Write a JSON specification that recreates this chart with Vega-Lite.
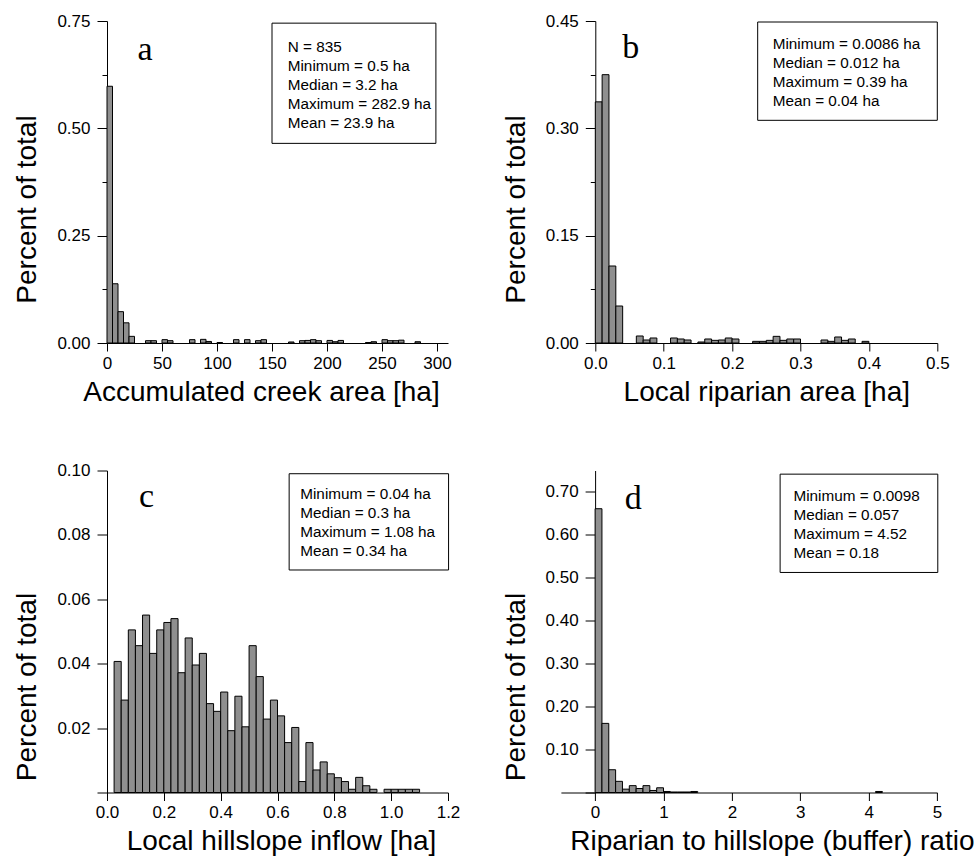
{
  "$schema": "https://vega.github.io/schema/vega-lite/v6.json",
  "background": "white",
  "padding": {"left": 13, "top": 12, "right": 0, "bottom": 0},
  "config": {
    "view": {"stroke": null},
    "font": "Liberation Sans",
    "axis": {"grid": false, "domainColor": "#000", "tickColor": "#000", "labelColor": "#000", "titleColor": "#000", "labelFont": "Liberation Sans", "titleFont": "Liberation Sans", "labelFontSize": 17, "titleFontSize": 28, "titleFontWeight": "normal", "labelOverlap": false, "labelFlush": false, "labelBound": false, "domainWidth": 1, "tickWidth": 1},
    "axisX": {"labelPadding": 4, "titlePadding": 7},
    "axisY": {"labelPadding": 7, "titlePadding": 15}
  },
  "datasets": {
    "histA": [
      {"bin_start": 0, "bin_end": 5, "share": 0.598},
      {"bin_start": 5, "bin_end": 10, "share": 0.138},
      {"bin_start": 10, "bin_end": 15, "share": 0.073},
      {"bin_start": 15, "bin_end": 20, "share": 0.047},
      {"bin_start": 20, "bin_end": 25, "share": 0.0155},
      {"bin_start": 35, "bin_end": 40, "share": 0.0054},
      {"bin_start": 40, "bin_end": 45, "share": 0.0054},
      {"bin_start": 50, "bin_end": 55, "share": 0.0078},
      {"bin_start": 55, "bin_end": 60, "share": 0.0054},
      {"bin_start": 75, "bin_end": 80, "share": 0.0078},
      {"bin_start": 85, "bin_end": 90, "share": 0.0085},
      {"bin_start": 90, "bin_end": 95, "share": 0.0036},
      {"bin_start": 100, "bin_end": 105, "share": 0.0012},
      {"bin_start": 115, "bin_end": 120, "share": 0.0078},
      {"bin_start": 125, "bin_end": 130, "share": 0.0078},
      {"bin_start": 135, "bin_end": 140, "share": 0.0054},
      {"bin_start": 140, "bin_end": 145, "share": 0.0078},
      {"bin_start": 165, "bin_end": 170, "share": 0.0024},
      {"bin_start": 175, "bin_end": 180, "share": 0.0054},
      {"bin_start": 180, "bin_end": 185, "share": 0.006},
      {"bin_start": 185, "bin_end": 190, "share": 0.0078},
      {"bin_start": 190, "bin_end": 195, "share": 0.0054},
      {"bin_start": 200, "bin_end": 205, "share": 0.006},
      {"bin_start": 205, "bin_end": 210, "share": 0.003},
      {"bin_start": 210, "bin_end": 215, "share": 0.006},
      {"bin_start": 235, "bin_end": 240, "share": 0.0012},
      {"bin_start": 240, "bin_end": 245, "share": 0.003},
      {"bin_start": 250, "bin_end": 255, "share": 0.0078},
      {"bin_start": 255, "bin_end": 260, "share": 0.0054},
      {"bin_start": 260, "bin_end": 265, "share": 0.0054},
      {"bin_start": 265, "bin_end": 270, "share": 0.0066},
      {"bin_start": 280, "bin_end": 285, "share": 0.003}
    ],
    "histB": [
      {"bin_start": 0, "bin_end": 0.01, "share": 0.337},
      {"bin_start": 0.01, "bin_end": 0.02, "share": 0.375},
      {"bin_start": 0.02, "bin_end": 0.03, "share": 0.1076},
      {"bin_start": 0.03, "bin_end": 0.04, "share": 0.0517},
      {"bin_start": 0.06, "bin_end": 0.07, "share": 0.0098},
      {"bin_start": 0.07, "bin_end": 0.08, "share": 0.0042},
      {"bin_start": 0.08, "bin_end": 0.09, "share": 0.007},
      {"bin_start": 0.11, "bin_end": 0.12, "share": 0.007},
      {"bin_start": 0.12, "bin_end": 0.13, "share": 0.0056},
      {"bin_start": 0.13, "bin_end": 0.14, "share": 0.0042},
      {"bin_start": 0.15, "bin_end": 0.16, "share": 0.0014},
      {"bin_start": 0.16, "bin_end": 0.17, "share": 0.0056},
      {"bin_start": 0.17, "bin_end": 0.18, "share": 0.0037},
      {"bin_start": 0.18, "bin_end": 0.19, "share": 0.0042},
      {"bin_start": 0.19, "bin_end": 0.2, "share": 0.007},
      {"bin_start": 0.2, "bin_end": 0.21, "share": 0.0056},
      {"bin_start": 0.23, "bin_end": 0.24, "share": 0.0023},
      {"bin_start": 0.24, "bin_end": 0.25, "share": 0.0023},
      {"bin_start": 0.25, "bin_end": 0.26, "share": 0.0037},
      {"bin_start": 0.26, "bin_end": 0.27, "share": 0.0093},
      {"bin_start": 0.27, "bin_end": 0.28, "share": 0.0037},
      {"bin_start": 0.28, "bin_end": 0.29, "share": 0.0056},
      {"bin_start": 0.29, "bin_end": 0.3, "share": 0.0056},
      {"bin_start": 0.33, "bin_end": 0.34, "share": 0.0042},
      {"bin_start": 0.34, "bin_end": 0.35, "share": 0.0023},
      {"bin_start": 0.35, "bin_end": 0.36, "share": 0.0084},
      {"bin_start": 0.36, "bin_end": 0.37, "share": 0.0037},
      {"bin_start": 0.37, "bin_end": 0.38, "share": 0.0056},
      {"bin_start": 0.39, "bin_end": 0.4, "share": 0.0023}
    ],
    "histC": [
      {"bin_start": 0.025, "bin_end": 0.05, "share": 0.0407},
      {"bin_start": 0.05, "bin_end": 0.075, "share": 0.0287},
      {"bin_start": 0.075, "bin_end": 0.1, "share": 0.0505},
      {"bin_start": 0.1, "bin_end": 0.125, "share": 0.0456},
      {"bin_start": 0.125, "bin_end": 0.15, "share": 0.0551},
      {"bin_start": 0.15, "bin_end": 0.175, "share": 0.0432},
      {"bin_start": 0.175, "bin_end": 0.2, "share": 0.0505},
      {"bin_start": 0.2, "bin_end": 0.225, "share": 0.0528},
      {"bin_start": 0.225, "bin_end": 0.25, "share": 0.054},
      {"bin_start": 0.25, "bin_end": 0.275, "share": 0.0372},
      {"bin_start": 0.275, "bin_end": 0.3, "share": 0.048},
      {"bin_start": 0.3, "bin_end": 0.325, "share": 0.0396},
      {"bin_start": 0.325, "bin_end": 0.35, "share": 0.0432},
      {"bin_start": 0.35, "bin_end": 0.375, "share": 0.0276},
      {"bin_start": 0.375, "bin_end": 0.4, "share": 0.0252},
      {"bin_start": 0.4, "bin_end": 0.425, "share": 0.0312},
      {"bin_start": 0.425, "bin_end": 0.45, "share": 0.0192},
      {"bin_start": 0.45, "bin_end": 0.475, "share": 0.0299},
      {"bin_start": 0.475, "bin_end": 0.5, "share": 0.0204},
      {"bin_start": 0.5, "bin_end": 0.525, "share": 0.0456},
      {"bin_start": 0.525, "bin_end": 0.55, "share": 0.036},
      {"bin_start": 0.55, "bin_end": 0.575, "share": 0.0228},
      {"bin_start": 0.575, "bin_end": 0.6, "share": 0.0287},
      {"bin_start": 0.6, "bin_end": 0.625, "share": 0.0238},
      {"bin_start": 0.625, "bin_end": 0.65, "share": 0.0155},
      {"bin_start": 0.65, "bin_end": 0.675, "share": 0.0202},
      {"bin_start": 0.675, "bin_end": 0.7, "share": 0.0034},
      {"bin_start": 0.7, "bin_end": 0.725, "share": 0.0155},
      {"bin_start": 0.725, "bin_end": 0.75, "share": 0.007},
      {"bin_start": 0.75, "bin_end": 0.775, "share": 0.0095},
      {"bin_start": 0.775, "bin_end": 0.8, "share": 0.0058},
      {"bin_start": 0.8, "bin_end": 0.825, "share": 0.0046},
      {"bin_start": 0.825, "bin_end": 0.85, "share": 0.0034},
      {"bin_start": 0.85, "bin_end": 0.875, "share": 0.001},
      {"bin_start": 0.875, "bin_end": 0.9, "share": 0.0047},
      {"bin_start": 0.9, "bin_end": 0.925, "share": 0.0021},
      {"bin_start": 0.925, "bin_end": 0.95, "share": 0.001},
      {"bin_start": 0.975, "bin_end": 1.0, "share": 0.001},
      {"bin_start": 1.0, "bin_end": 1.025, "share": 0.001},
      {"bin_start": 1.025, "bin_end": 1.05, "share": 0.001},
      {"bin_start": 1.05, "bin_end": 1.075, "share": 0.001},
      {"bin_start": 1.075, "bin_end": 1.1, "share": 0.001}
    ],
    "histD": [
      {"bin_start": 0, "bin_end": 0.1, "share": 0.661},
      {"bin_start": 0.1, "bin_end": 0.2, "share": 0.161},
      {"bin_start": 0.2, "bin_end": 0.3, "share": 0.053},
      {"bin_start": 0.3, "bin_end": 0.4, "share": 0.026},
      {"bin_start": 0.4, "bin_end": 0.5, "share": 0.0078},
      {"bin_start": 0.5, "bin_end": 0.6, "share": 0.016},
      {"bin_start": 0.6, "bin_end": 0.7, "share": 0.0093},
      {"bin_start": 0.7, "bin_end": 0.8, "share": 0.016},
      {"bin_start": 0.8, "bin_end": 0.9, "share": 0.0047},
      {"bin_start": 0.9, "bin_end": 1.0, "share": 0.011},
      {"bin_start": 1.0, "bin_end": 1.1, "share": 0.0024},
      {"bin_start": 1.1, "bin_end": 1.2, "share": 0.0012},
      {"bin_start": 1.2, "bin_end": 1.3, "share": 0.0012},
      {"bin_start": 1.3, "bin_end": 1.4, "share": 0.0012},
      {"bin_start": 1.4, "bin_end": 1.5, "share": 0.0024},
      {"bin_start": 4.1, "bin_end": 4.2, "share": 0.0024}
    ],
    "statsA": [{"label": "N = 835\nMinimum = 0.5 ha\nMedian = 3.2 ha\nMaximum = 282.9 ha\nMean = 23.9 ha"}],
    "statsB": [{"label": "Minimum = 0.0086 ha\nMedian = 0.012 ha\nMaximum = 0.39 ha\nMean = 0.04 ha"}],
    "statsC": [{"label": "Minimum = 0.04 ha\nMedian = 0.3 ha\nMaximum = 1.08 ha\nMean = 0.34 ha"}],
    "statsD": [{"label": "Minimum = 0.0098\nMedian = 0.057\nMaximum = 4.52\nMean = 0.18"}],
    "letterA": [{"label": "a"}],
    "letterB": [{"label": "b"}],
    "letterC": [{"label": "c"}],
    "letterD": [{"label": "d"}]
  },
  "spacing": 449.5,
  "bounds": "flush",
  "vconcat": [
    {
      "spacing": 147.3,
      "bounds": "flush",
      "hconcat": [
        {
          "width": 341, "height": 322,
          "layer": [
            {"data": {"name": "histA"}, "mark": {"type": "rect", "fill": "#8f8f8f", "stroke": "#000", "strokeWidth": 1},
             "encoding": {
               "x": {"field": "bin_start", "type": "quantitative", "title": "Accumulated creek area [ha]",
                     "scale": {"domain": [0, 310], "nice": false, "zero": false},
                     "axis": {"values": [0, 25, 50, 75, 100, 125, 150, 175, 200, 225, 250, 275, 300],
                              "labelExpr": "datum.value % 50 == 0 ? format(datum.value, 'd') : ''",
                              "tickSize": {"condition": {"test": "datum.value % 50 == 0", "value": 8}, "value": 4},
                              "titleX": 154}},
               "x2": {"field": "bin_end"},
               "y": {"field": "share", "type": "quantitative", "title": "Percent of total",
                     "scale": {"domain": [0, 0.75], "nice": false},
                     "axis": {"values": [0, 0.125, 0.25, 0.375, 0.5, 0.625, 0.75],
                              "labelExpr": "round(datum.value * 1000) % 250 == 0 ? format(datum.value, '.2f') : ''",
                              "tickSize": {"condition": {"test": "round(datum.value * 1000) % 250 == 0", "value": 10}, "value": 5},
                              "titleY": 188}},
               "y2": {"datum": 0}
             }},
            {"data": {"name": "letterA"}, "mark": {"type": "rect", "filled": false, "stroke": "#000", "strokeWidth": 1},
             "encoding": {"x": {"datum": 150, "type": "quantitative"}, "x2": {"datum": 299}, "y": {"datum": 0.745, "type": "quantitative"}, "y2": {"datum": 0.465}}},
            {"data": {"name": "statsA"}, "mark": {"type": "text", "align": "left", "baseline": "alphabetic", "fontSize": 15.3, "lineHeight": 19, "lineBreak": "\n", "font": "Liberation Sans", "color": "#000"},
             "encoding": {"x": {"datum": 164.3, "type": "quantitative"}, "y": {"datum": 0.678, "type": "quantitative"}, "text": {"field": "label"}}},
            {"data": {"name": "letterA"}, "mark": {"type": "text", "font": "Liberation Serif", "fontSize": 34, "align": "center", "baseline": "alphabetic", "color": "#000"},
             "encoding": {"x": {"datum": 34.5, "type": "quantitative"}, "y": {"datum": 0.66, "type": "quantitative"}, "text": {"field": "label"}}}
          ]
        },
        {
          "width": 342, "height": 322,
          "layer": [
            {"data": {"name": "histB"}, "mark": {"type": "rect", "fill": "#8f8f8f", "stroke": "#000", "strokeWidth": 1},
             "encoding": {
               "x": {"field": "bin_start", "type": "quantitative", "title": "Local riparian area [ha]",
                     "scale": {"domain": [0, 0.5], "nice": false, "zero": false},
                     "axis": {"values": [0, 0.05, 0.1, 0.15, 0.2, 0.25, 0.3, 0.35, 0.4, 0.45, 0.5],
                              "labelExpr": "round(datum.value * 100) % 10 == 0 ? format(datum.value, '.1f') : ''",
                              "tickSize": {"condition": {"test": "round(datum.value * 100) % 10 == 0", "value": 8}, "value": 4}}},
               "x2": {"field": "bin_end"},
               "y": {"field": "share", "type": "quantitative", "title": "Percent of total",
                     "scale": {"domain": [0, 0.45], "nice": false},
                     "axis": {"values": [0, 0.075, 0.15, 0.225, 0.3, 0.375, 0.45],
                              "labelExpr": "round(datum.value * 1000) % 150 == 0 ? format(datum.value, '.2f') : ''",
                              "tickSize": {"condition": {"test": "round(datum.value * 1000) % 150 == 0", "value": 10}, "value": 5},
                              "titleY": 188}},
               "y2": {"datum": 0}
             }},
            {"data": {"name": "letterB"}, "mark": {"type": "rect", "filled": false, "stroke": "#000", "strokeWidth": 1},
             "encoding": {"x": {"datum": 0.2374, "type": "quantitative"}, "x2": {"datum": 0.5}, "y": {"datum": 0.4486, "type": "quantitative"}, "y2": {"datum": 0.3112}}},
            {"data": {"name": "statsB"}, "mark": {"type": "text", "align": "left", "baseline": "alphabetic", "fontSize": 15.3, "lineHeight": 19, "lineBreak": "\n", "font": "Liberation Sans", "color": "#000"},
             "encoding": {"x": {"datum": 0.2593, "type": "quantitative"}, "y": {"datum": 0.4114, "type": "quantitative"}, "text": {"field": "label"}}},
            {"data": {"name": "letterB"}, "mark": {"type": "text", "font": "Liberation Serif", "fontSize": 34, "align": "center", "baseline": "alphabetic", "color": "#000"},
             "encoding": {"x": {"datum": 0.052, "type": "quantitative"}, "y": {"datum": 0.398, "type": "quantitative"}, "text": {"field": "label"}}}
          ]
        }
      ]
    },
    {
      "spacing": 112.9,
      "bounds": "flush",
      "hconcat": [
        {
          "width": 341, "height": 322,
          "layer": [
            {"data": {"name": "histC"}, "mark": {"type": "rect", "fill": "#8f8f8f", "stroke": "#000", "strokeWidth": 1},
             "encoding": {
               "x": {"field": "bin_start", "type": "quantitative", "title": "Local hillslope inflow [ha]",
                     "scale": {"domain": [0, 1.2], "nice": false, "zero": false},
                     "axis": {"values": [0, 0.1, 0.2, 0.3, 0.4, 0.5, 0.6, 0.7, 0.8, 0.9, 1.0, 1.1, 1.2],
                              "labelExpr": "round(datum.value * 10) % 2 == 0 ? format(datum.value, '.1f') : ''",
                              "tickSize": {"condition": {"test": "round(datum.value * 10) % 2 == 0", "value": 8}, "value": 4},
                              "titleX": 174}},
               "x2": {"field": "bin_end"},
               "y": {"field": "share", "type": "quantitative", "title": "Percent of total",
                     "scale": {"domain": [0, 0.1], "nice": false},
                     "axis": {"values": [0, 0.01, 0.02, 0.03, 0.04, 0.05, 0.06, 0.07, 0.08, 0.09, 0.1],
                              "labelExpr": "(round(datum.value * 100) % 2 == 0 && datum.value > 0) ? format(datum.value, '.2f') : ''",
                              "tickSize": {"condition": {"test": "round(datum.value * 100) % 2 == 0", "value": 10}, "value": 5},
                              "titleY": 216}},
               "y2": {"datum": 0}
             }},
            {"data": {"name": "letterC"}, "mark": {"type": "rect", "filled": false, "stroke": "#000", "strokeWidth": 1},
             "encoding": {"x": {"datum": 0.641, "type": "quantitative"}, "x2": {"datum": 1.202}, "y": {"datum": 0.099, "type": "quantitative"}, "y2": {"datum": 0.0691}}},
            {"data": {"name": "statsC"}, "mark": {"type": "text", "align": "left", "baseline": "alphabetic", "fontSize": 15.3, "lineHeight": 19, "lineBreak": "\n", "font": "Liberation Sans", "color": "#000"},
             "encoding": {"x": {"datum": 0.68, "type": "quantitative"}, "y": {"datum": 0.0912, "type": "quantitative"}, "text": {"field": "label"}}},
            {"data": {"name": "letterC"}, "mark": {"type": "text", "font": "Liberation Serif", "fontSize": 34, "align": "center", "baseline": "alphabetic", "color": "#000"},
             "encoding": {"x": {"datum": 0.139, "type": "quantitative"}, "y": {"datum": 0.0887, "type": "quantitative"}, "text": {"field": "label"}}}
          ]
        },
        {
          "width": 376.2, "height": 322,
          "layer": [
            {"data": {"name": "histD"}, "mark": {"type": "rect", "fill": "#8f8f8f", "stroke": "#000", "strokeWidth": 1},
             "encoding": {
               "x": {"field": "bin_start", "type": "quantitative", "title": "Riparian to hillslope (buffer) ratio",
                     "scale": {"domain": [-0.5, 5], "nice": false, "zero": false},
                     "axis": {"values": [0, 0.5, 1, 1.5, 2, 2.5, 3, 3.5, 4, 4.5, 5],
                              "labelExpr": "datum.value % 1 == 0 ? format(datum.value, 'd') : ''",
                              "tickSize": {"condition": {"test": "datum.value % 1 == 0", "value": 8}, "value": 4},
                              "titleX": 211}},
               "x2": {"field": "bin_end"},
               "y": {"field": "share", "type": "quantitative", "title": "Percent of total",
                     "scale": {"domain": [0, 0.75], "nice": false},
                     "axis": {"values": [0, 0.05, 0.1, 0.15, 0.2, 0.25, 0.3, 0.35, 0.4, 0.45, 0.5, 0.55, 0.6, 0.65, 0.7, 0.75],
                              "labelExpr": "(round(datum.value * 100) % 10 == 0 && datum.value > 0) ? format(datum.value, '.2f') : ''",
                              "tickSize": {"condition": {"test": "round(datum.value * 100) % 10 == 0", "value": 10}, "value": 5},
                              "offset": -34.2,
                              "titleY": 216}},
               "y2": {"datum": 0}
             }},
            {"data": {"name": "letterD"}, "mark": {"type": "rect", "filled": false, "stroke": "#000", "strokeWidth": 1},
             "encoding": {"x": {"datum": 2.705, "type": "quantitative"}, "x2": {"datum": 5.01}, "y": {"datum": 0.7415, "type": "quantitative"}, "y2": {"datum": 0.5125}}},
            {"data": {"name": "statsD"}, "mark": {"type": "text", "align": "left", "baseline": "alphabetic", "fontSize": 15.3, "lineHeight": 19, "lineBreak": "\n", "font": "Liberation Sans", "color": "#000"},
             "encoding": {"x": {"datum": 2.9, "type": "quantitative"}, "y": {"datum": 0.679, "type": "quantitative"}, "text": {"field": "label"}}},
            {"data": {"name": "letterD"}, "mark": {"type": "text", "font": "Liberation Serif", "fontSize": 34, "align": "center", "baseline": "alphabetic", "color": "#000"},
             "encoding": {"x": {"datum": 0.558, "type": "quantitative"}, "y": {"datum": 0.66, "type": "quantitative"}, "text": {"field": "label"}}}
          ]
        }
      ]
    }
  ]
}
